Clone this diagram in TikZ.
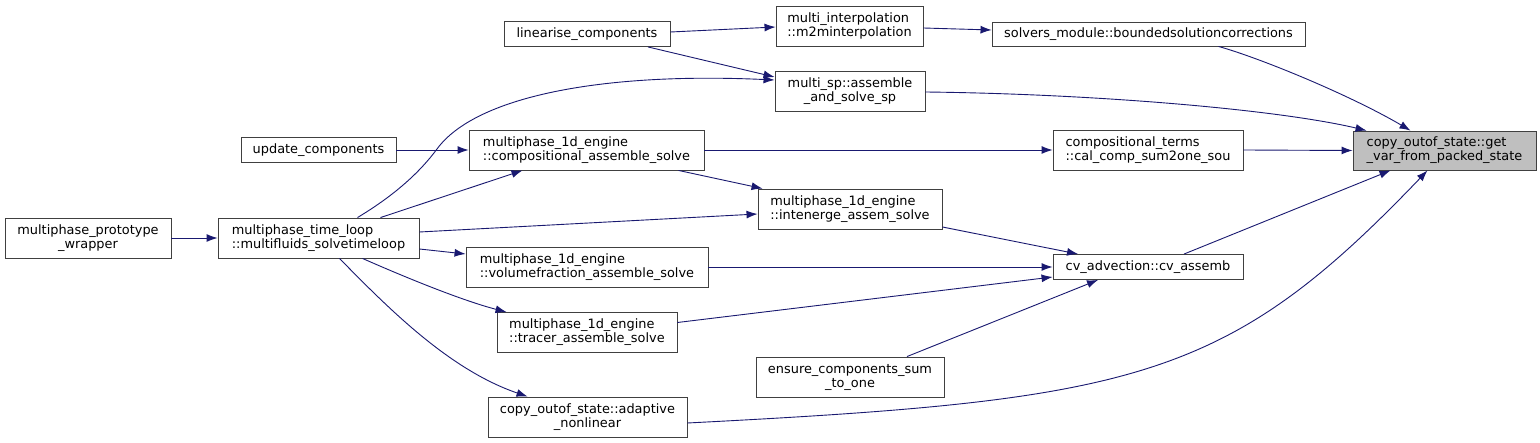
\documentclass[tikz,border=0pt]{standalone}
\usepackage{fontspec}
\setmainfont{DejaVu Sans}
\usetikzlibrary{arrows.meta}
\definecolor{edgeblue}{HTML}{191970}
\definecolor{boxline}{HTML}{404040}
\definecolor{boxfill}{HTML}{BFBFBF}

\begin{document}
\begin{tikzpicture}[x=1pt,y=-1pt,
  fn/.style={draw=boxline, line width=0.9pt, fill=white, inner sep=0pt,
    align=left, font=\fontsize{12.9}{14}\selectfont},
  call/.style={edgeblue, line width=0.9pt, -{Latex[length=11pt,width=8pt]}}]
  \fill[white] (0,0) rectangle (1540,443);
  \useasboundingbox (0,0) rectangle (1540,443);

  % functions
  \node[fn, fill=boxfill, minimum width=183pt, minimum height=39pt] (getvar) at (1444.5,150.5)
    {copy\_outof\_state::get\\\_var\_from\_packed\_state};
  \node[fn, minimum width=313pt, minimum height=24pt] (solvers) at (1148.5,34)
    {solvers\_module::boundedsolutioncorrections};
  \node[fn, minimum width=147pt, minimum height=40pt] (m2m) at (849.5,26)
    {multi\_interpolation\\::m2minterpolation};
  \node[fn, minimum width=166pt, minimum height=25pt] (linearise) at (587,34)
    {linearise\_components};
  \node[fn, align=center, minimum width=150pt, minimum height=40pt] (multisp) at (850,91)
    {multi\_sp::assemble\\\_and\_solve\_sp};
  \node[fn, minimum width=155pt, minimum height=25pt] (update) at (318.5,150)
    {update\_components};
  \node[fn, minimum width=235pt, minimum height=40pt] (compasm) at (586.5,150)
    {multiphase\_1d\_engine\\::compositional\_assemble\_solve};
  \node[fn, minimum width=190pt, minimum height=40pt] (calcomp) at (1148,150)
    {compositional\_terms\\::cal\_comp\_sum2one\_sou};
  \node[fn, align=center, minimum width=166pt, minimum height=40pt] (wrapper) at (88,238)
    {multiphase\_prototype\\\_wrapper};
  \node[fn, minimum width=201pt, minimum height=40pt] (timeloop) at (318.5,238)
    {multiphase\_time\_loop\\::multifluids\_solvetimeloop};
  \node[fn, minimum width=184pt, minimum height=40pt] (intenerge) at (850,209)
    {multiphase\_1d\_engine\\::intenerge\_assem\_solve};
  \node[fn, minimum width=242pt, minimum height=40pt] (volfrac) at (587,267)
    {multiphase\_1d\_engine\\::volumefraction\_assemble\_solve};
  \node[fn, minimum width=190pt, minimum height=25pt] (cvassemb) at (1148,267)
    {cv\_advection::cv\_assemb};
  \node[fn, minimum width=180pt, minimum height=40pt] (tracer) at (587,332.5)
    {multiphase\_1d\_engine\\::tracer\_assemble\_solve};
  \node[fn, align=center, minimum width=188pt, minimum height=40pt] (ensure) at (850,377)
    {ensure\_components\_sum\\\_to\_one};
  \node[fn, align=center, minimum width=199pt, minimum height=40pt] (adaptive) at (587.5,417)
    {copy\_outof\_state::adaptive\\\_nonlinear};

  % calls
  \draw[call] (wrapper.east) -- (timeloop.west);
  \draw[call] (update.east) -- (compasm.west);
  \draw[call] ([xshift=62pt]timeloop.north) -- ([xshift=-64pt]compasm.south);
  \draw[call] ([xshift=39pt]timeloop.north) .. controls (395,195) and (420,172) .. (437,149)
    .. controls (475,97) and (600,72) .. ([yshift=11pt]multisp.west);
  \draw[call] ([yshift=6pt]timeloop.east) -- ([yshift=-5pt]intenerge.west);
  \draw[call] ([yshift=-11pt]timeloop.east) -- ([yshift=13pt]volfrac.west);
  \draw[call] ([xshift=44pt]timeloop.south) .. controls (400,275) and (460,300) .. ([xshift=10pt]tracer.north west);
  \draw[call] ([xshift=21pt]timeloop.south) .. controls (390,310) and (450,370) .. ([xshift=40pt]adaptive.north west);
  \draw[call] ([yshift=2pt]linearise.east) -- ([yshift=-1pt]m2m.west);
  \draw[call] ([xshift=61pt]linearise.south) -- ([yshift=14pt]multisp.west);
  \draw[call] ([yshift=-2pt]m2m.east) -- ([yshift=4pt]solvers.west);
  \draw[call] ([xshift=70pt]solvers.south) .. controls (1260,58) and (1350,95) .. ([xshift=-34pt]getvar.north);
  \draw[call] ([yshift=-1pt]multisp.east) .. controls (1100,94) and (1280,110) .. ([xshift=14pt]getvar.north west);
  \draw[call] (compasm.east) -- (calcomp.west);
  \draw[call] ([xshift=92pt]compasm.south) -- ([xshift=5pt]intenerge.north west);
  \draw[call] (calcomp.east) -- (getvar.west);
  \draw[call] ([yshift=-18pt]intenerge.east) -- ([xshift=-70pt]cvassemb.north);
  \draw[call] (volfrac.east) -- (cvassemb.west);
  \draw[call] ([yshift=10pt]tracer.east) -- ([yshift=-10pt]cvassemb.west);
  \draw[call] ([xshift=57pt]ensure.north) -- ([xshift=-50pt]cvassemb.south);
  \draw[call] ([xshift=36pt]cvassemb.north) -- ([xshift=-54pt]getvar.south);
  \draw[call] ([yshift=-6pt]adaptive.east) .. controls (1137,400) and (1227,380) .. ([xshift=-17pt]getvar.south);
\end{tikzpicture}
\end{document}
